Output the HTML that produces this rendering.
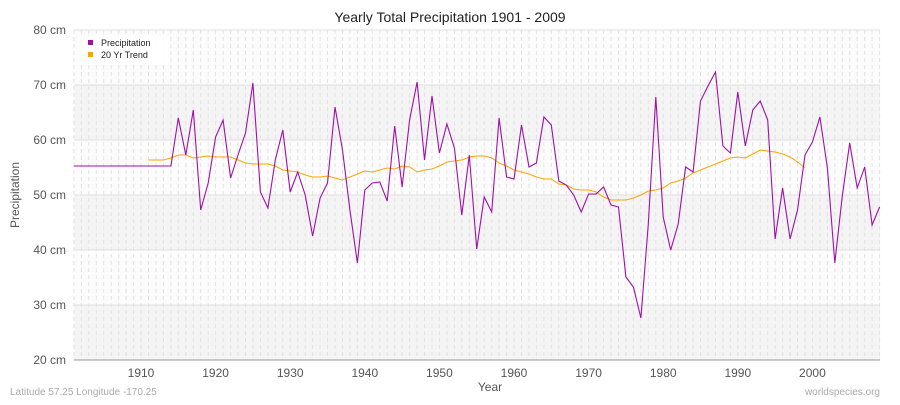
<!DOCTYPE html>
<html><head><meta charset="utf-8"><style>
body{margin:0;background:#fff;font-family:"Liberation Sans","DejaVu Sans",sans-serif}
</style></head><body>
<svg id="s" width="900" height="400" xmlns="http://www.w3.org/2000/svg" font-family="Liberation Sans, DejaVu Sans, sans-serif">
<rect width="900" height="400" fill="#fff"/>
<rect x="74" y="30" width="806" height="330" fill="#fcfcfc"/>
<rect x="74" y="85" width="806" height="55" fill="#f4f4f4"/>
<rect x="74" y="195" width="806" height="55" fill="#f4f4f4"/>
<rect x="74" y="305" width="806" height="55" fill="#f4f4f4"/>
<g id="grid"></g>
<text x="450" y="22" text-anchor="middle" font-size="14" fill="#222">Yearly Total Precipitation 1901 - 2009</text>
<g font-size="12" fill="#555" text-anchor="end">
<text x="66" y="34">80 cm</text><text x="66" y="89">70 cm</text><text x="66" y="144">60 cm</text><text x="66" y="199">50 cm</text><text x="66" y="254">40 cm</text><text x="66" y="309">30 cm</text><text x="66" y="364">20 cm</text>
</g>
<g font-size="12" fill="#555" text-anchor="middle" id="xl"></g>
<text x="490" y="391" text-anchor="middle" font-size="12" fill="#555">Year</text>
<text x="19" y="195" text-anchor="middle" font-size="12" fill="#555" transform="rotate(-90 19 195)">Precipitation</text>
<text x="10" y="395" font-size="10" fill="#aaa">Latitude 57.25 Longitude -170.25</text>
<text x="880" y="395" text-anchor="end" font-size="10" fill="#aaa">worldspecies.org</text>
<polyline id="tr" fill="none" stroke="#ffa500" stroke-width="1"/>
<polyline id="pr" fill="none" stroke="#a010a8" stroke-width="1.1"/>
<rect x="80" y="35" width="90" height="30" rx="3" fill="#fff" opacity="0.9"/>
<rect x="88" y="40" width="5" height="5" fill="#a010a8"/>
<text x="101" y="46" font-size="9" fill="#222">Precipitation</text>
<rect x="88" y="52" width="5" height="5" fill="#ffa500"/>
<text x="101" y="58" font-size="9" fill="#222">20 Yr Trend</text>
<line x1="74" y1="360" x2="880" y2="360" stroke="#999"/>
</svg>
<script>
var X=function(y){return 73.9+(y-1901)*7.46};
var g=document.getElementById('grid'),h='';
for(var y=1901;y<=2009;y++){var x=X(y).toFixed(1);h+='<line x1="'+x+'" y1="30" x2="'+x+'" y2="360" stroke="#e2e2e2" stroke-dasharray="4,3"/>';}
for(var v=30;v<=360;v+=55){h+='<line x1="74" y1="'+v+'" x2="880" y2="'+v+'" stroke="#e0e0e0"/>';}
g.innerHTML=h;
var xl='';for(var y=1910;y<=2000;y+=10)xl+='<text x="'+X(y).toFixed(1)+'" y="377">'+y+'</text>';
document.getElementById('xl').innerHTML=xl;
var p=[166,166,166,166,166,166,166,166,166,166,166,166,166,166,118,155,110,210,183,137,120,178,155,133,83,192,208,160,130,192,172,195,236,198,183,107,150,210,263,190,183,182,201,126,187,120,82,160,96,153,124,148,215,155,249,197,212,118,177,179,125,167,163,117,125,181,185,195,212,194,194,187,205,207,277,287,318,224,97,217,250,224,167,172,101,86,72,146,153,92,146,110,101,120,239,188,239,210,155,142,117,168,263,196,143,188,167,225,207];
var t=[160,160,160,158,155,155,158,157,156,157,157,157,160,163,164,164,164,166,170,171,172,175,177,177,176,178,180,177,174,171,172,170,168,169,166,167,172,170,169,166,162,161,160,157,156,156,158,163,166,170,172,174,177,179,179,184,185,189,190,190,192,197,200,200,200,198,195,191,190,188,183,181,178,173,170,167,164,161,158,157,158,154,150,151,152,154,157,162,168];
document.getElementById('pr').setAttribute('points',p.map(function(v,i){return X(1901+i).toFixed(1)+','+v}).join(' '));
document.getElementById('tr').setAttribute('points',t.map(function(v,i){return X(1911+i).toFixed(1)+','+v}).join(' '));
</script>
</body></html>
